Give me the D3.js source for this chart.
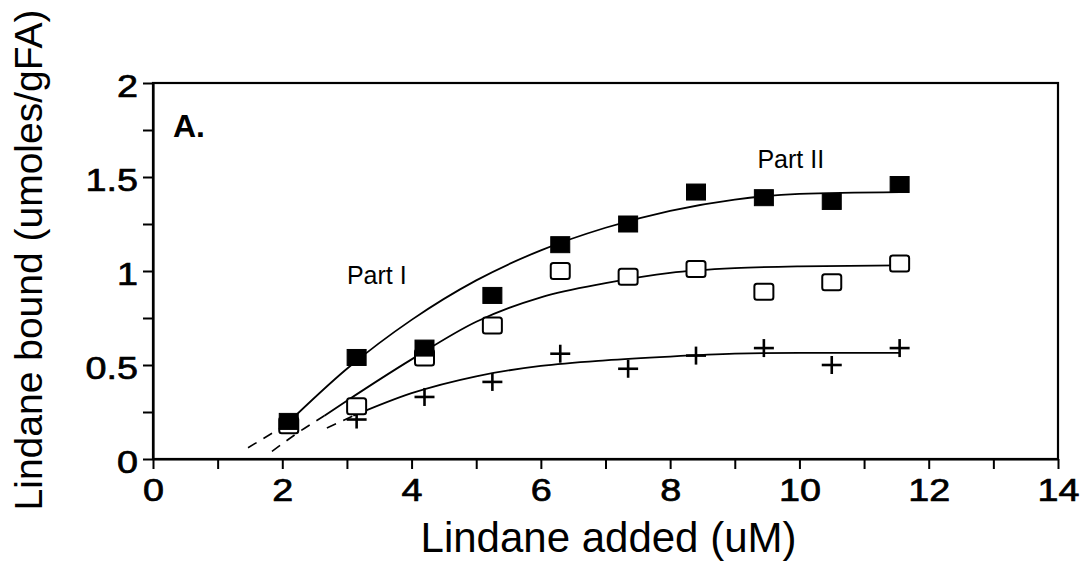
<!DOCTYPE html>
<html>
<head>
<meta charset="utf-8">
<script src="https://cdn.jsdelivr.net/npm/d3@7"></script>
<style>
  html, body { margin: 0; padding: 0; background: #fff; }
  svg { display: block; }
  text { font-family: "Liberation Sans", Arial, Helvetica, sans-serif; fill: #000; }
</style>
</head>
<body>
<svg id="chart" width="1086" height="561"></svg>
<script>
// ---- data ----
const lindaneAdded = [2.1, 3.15, 4.2, 5.25, 6.3, 7.35, 8.4, 9.45, 10.5, 11.55];
const boundFilled  = [0.20, 0.54, 0.59, 0.87, 1.14, 1.25, 1.42, 1.39, 1.37, 1.46];
const boundOpen    = [0.18, 0.28, 0.54, 0.71, 1.00, 0.97, 1.01, 0.89, 0.94, 1.04];
const boundPlus    = [null, 0.21, 0.33, 0.41, 0.56, 0.48, 0.55, 0.59, 0.50, 0.59];

// fitted curves (x, y); first points are dashed extrapolations
const fitFilledX = [1.47, 2.05, 3.0, 4.0, 5.0, 6.0, 7.0, 8.0, 9.0, 10.0, 11.55];
const fitFilledY = [0.06, 0.18, 0.48, 0.74, 0.95, 1.11, 1.23, 1.32, 1.38, 1.41, 1.42];
const fitFilledDashedUntil = 2.05;
const fitOpenX = [1.84, 2.2, 2.65, 3.0, 4.0, 5.0, 6.0, 7.0, 8.0, 9.0, 10.0, 11.55];
const fitOpenY = [0.04, 0.13, 0.23, 0.31, 0.53, 0.73, 0.86, 0.935, 0.99, 1.015, 1.025, 1.03];
const fitOpenDashedUntil = 2.65;
const fitPlusX = [2.69, 3.1, 4.0, 5.0, 6.0, 7.0, 8.0, 9.0, 10.0, 11.55];
const fitPlusY = [0.165, 0.23, 0.35, 0.44, 0.495, 0.525, 0.545, 0.56, 0.565, 0.565];
const fitPlusDashedUntil = 3.1;

const xTickValues = [0,1,2,3,4,5,6,7,8,9,10,11,12,13,14];
const xTickLabels = {0:"0", 2:"2", 4:"4", 6:"6", 8:"8", 10:"10", 12:"12", 14:"14"};
const yTickValues = [0,0.25,0.5,0.75,1,1.25,1.5,1.75,2];
const yTickLabels = {0:"0", 0.5:"0.5", 1:"1", 1.5:"1.5", 2:"2"};

const xTitle = "Lindane added (uM)";
const yTitle = "Lindane bound (umoles/gFA)";
const panelLabel = "A.";
const partLabels = [{text: "Part I", x: 3.0, y: 0.93}, {text: "Part II", x: 9.35, y: 1.55}];

// ---- layout ----
const svg = d3.select("#chart");
const L = 153, R = 1058, T = 83, B = 459;
const x = d3.scaleLinear().domain([0, 14]).range([L, R]);
const y = d3.scaleLinear().domain([0, 2]).range([B, T]);

// frame
svg.append("rect").attr("x", L).attr("y", T).attr("width", R - L).attr("height", B - T)
  .attr("fill", "none").attr("stroke", "#000").attr("stroke-width", 2.2);

// axes
const xAxis = svg.append("g").attr("transform", `translate(0,${B})`)
  .call(d3.axisBottom(x).tickValues(xTickValues).tickSize(10).tickSizeOuter(0)
    .tickFormat(d => xTickLabels[d] || ""));
const yAxis = svg.append("g").attr("transform", `translate(${L},0)`)
  .call(d3.axisLeft(y).tickValues(yTickValues).tickSize(10).tickSizeOuter(0)
    .tickFormat(d => yTickLabels[d] || ""));
[xAxis, yAxis].forEach(g => {
  g.selectAll("path.domain").attr("stroke", "#000").attr("stroke-width", 2.2);
  g.selectAll(".tick line").attr("stroke", "#000").attr("stroke-width", 2);
  g.selectAll(".tick text").attr("font-size", 32).attr("fill", "#000")
    .attr("stroke", "#000").attr("stroke-width", 0.7)
    .attr("font-family", '"Liberation Sans", Arial, sans-serif');
});
xAxis.selectAll(".tick text").attr("y", 0).attr("dy", 0)
  .attr("transform", "translate(0,42) scale(1.18,1)");
yAxis.selectAll(".tick text").attr("x", 0).attr("dy", "0.36em")
  .attr("transform", "translate(-15,2) scale(1.18,1)");

// fitted curves
function drawFit(xs, ys, dashedUntil) {
  const pts = xs.map((v, i) => [v, ys[i]]);
  const line = d3.line().x(d => x(d[0])).y(d => y(d[1])).curve(d3.curveMonotoneX);
  const dashed = pts.filter(p => p[0] <= dashedUntil);
  const solid = pts.filter(p => p[0] >= dashedUntil);
  svg.append("path").attr("d", line(dashed)).attr("fill", "none")
    .attr("stroke", "#000").attr("stroke-width", 1.6).attr("stroke-dasharray", "10,8");
  svg.append("path").attr("d", line(solid)).attr("fill", "none")
    .attr("stroke", "#000").attr("stroke-width", 1.8);
}
drawFit(fitFilledX, fitFilledY, fitFilledDashedUntil);
drawFit(fitOpenX, fitOpenY, fitOpenDashedUntil);
drawFit(fitPlusX, fitPlusY, fitPlusDashedUntil);

// markers
const plusData = lindaneAdded.map((v, i) => ({x: v, y: boundPlus[i]})).filter(d => d.y != null);
const openData = lindaneAdded.map((v, i) => ({x: v, y: boundOpen[i]}));
const filledData = lindaneAdded.map((v, i) => ({x: v, y: boundFilled[i]}));

const pw = 10, ph = 9;
const plusG = svg.append("g").selectAll("g").data(plusData).join("g")
  .attr("transform", d => `translate(${x(d.x)},${y(d.y)})`);
plusG.append("line").attr("x1", -pw).attr("x2", pw).attr("y1", 0).attr("y2", 0)
  .attr("stroke", "#000").attr("stroke-width", 2.6);
plusG.append("line").attr("x1", 0).attr("x2", 0).attr("y1", -ph).attr("y2", ph)
  .attr("stroke", "#000").attr("stroke-width", 2.6);

const sw = 19, sh = 16;
svg.append("g").selectAll("rect").data(openData).join("rect")
  .attr("x", d => x(d.x) - sw / 2).attr("y", d => y(d.y) - sh / 2)
  .attr("width", sw).attr("height", sh).attr("rx", 2.5)
  .attr("fill", "#fff").attr("stroke", "#000").attr("stroke-width", 2);

svg.append("g").selectAll("rect").data(filledData).join("rect")
  .attr("x", d => x(d.x) - sw / 2).attr("y", d => y(d.y) - sh / 2)
  .attr("width", sw).attr("height", sh)
  .attr("fill", "#000").attr("stroke", "#000").attr("stroke-width", 1);

// labels
svg.append("text").attr("x", 173).attr("y", 137).attr("font-size", 32)
  .attr("font-weight", "bold").text(panelLabel);
svg.selectAll("text.part").data(partLabels).join("text").attr("class", "part")
  .attr("x", d => x(d.x)).attr("y", d => y(d.y)).attr("font-size", 25)
  .attr("text-anchor", "start").text(d => d.text);

svg.append("text").attr("x", (L + R) / 2 + 3).attr("y", 552)
  .attr("text-anchor", "middle").attr("font-size", 42).text(xTitle);
svg.append("text").attr("transform", "translate(42,260) rotate(-90)")
  .attr("text-anchor", "middle").attr("font-size", 39).text(yTitle);
</script>
</body>
</html>
